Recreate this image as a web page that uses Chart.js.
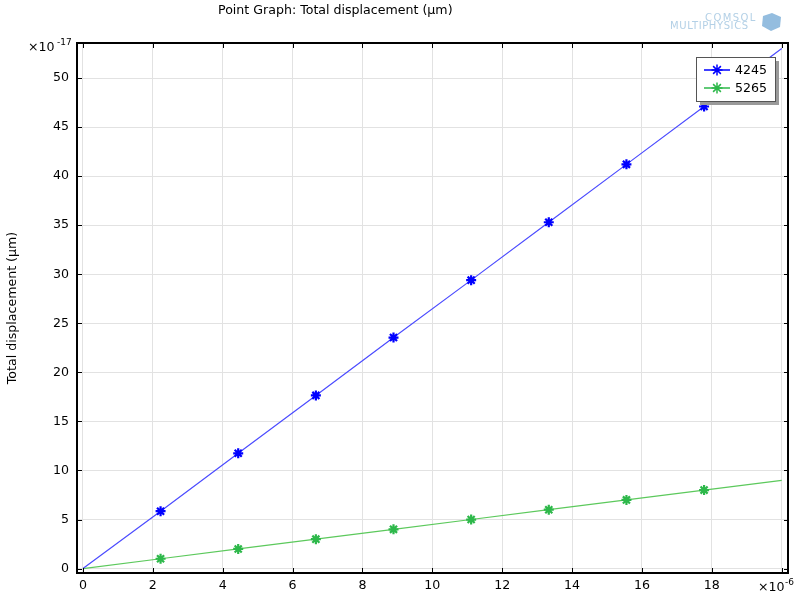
<!DOCTYPE html>
<html>
<head>
<meta charset="utf-8">
<script src="https://cdn.jsdelivr.net/npm/chart.js@4"></script>
<style>
  html, body { margin: 0; padding: 0; background: #fff; }
  #wrap { width: 800px; height: 600px; }
</style>
</head>
<body>
<div id="wrap"><canvas id="myChart" width="800" height="600"></canvas></div>
<script>
// data (x in 1e-6, y in 1e-17 um)
const xValues = [0, 2.222, 4.444, 6.667, 8.889, 11.111, 13.333, 15.556, 17.778, 20];
const series4245 = [0, 5.85, 11.75, 17.65, 23.55, 29.4, 35.3, 41.2, 47.1, 53.0];
const series5265 = [0, 1, 2, 3, 4, 5, 6, 7, 8, 9];
const seriesNames = ['4245', '5265'];
const xTicks = [0, 2, 4, 6, 8, 10, 12, 14, 16, 18, 20];
const yTicks = [0, 5, 10, 15, 20, 25, 30, 35, 40, 45, 50];

const FONT = 'DejaVu Sans, sans-serif';
const FSIZE = 12.6;
const markerRadius = [0, 5, 5, 5, 5, 5, 5, 5, 5, 0];

function toPoints(ys) {
    return xValues.map((x, i) => ({ x: x, y: ys[i] }));
}

// frame, inward ticks, exponents, title, logo, legend
const decorPlugin = {
    id: 'decor',
    afterDraw(chart) {
        const ctx = chart.ctx;
        const a = chart.chartArea;
        const xs = chart.scales.x, ys = chart.scales.y;
        ctx.save();
        ctx.strokeStyle = '#000';
        ctx.lineWidth = 1;
        ctx.beginPath();
        xTicks.forEach(t => {
            const px = Math.round(xs.getPixelForValue(t)) + 0.5;
            ctx.moveTo(px, a.bottom); ctx.lineTo(px, a.bottom - 5);
            ctx.moveTo(px, a.top); ctx.lineTo(px, a.top + 5);
        });
        yTicks.forEach(t => {
            const py = Math.round(ys.getPixelForValue(t)) + 0.5;
            ctx.moveTo(a.left, py); ctx.lineTo(a.left + 5, py);
            ctx.moveTo(a.right, py); ctx.lineTo(a.right - 4, py);
        });
        ctx.stroke();
        ctx.lineWidth = 2;
        ctx.strokeRect(a.left, a.top, a.right - a.left, a.bottom - a.top);

        // exponents
        ctx.fillStyle = '#000';
        ctx.textBaseline = 'alphabetic';
        ctx.font = FSIZE + 'px ' + FONT;
        ctx.fillText('\u00d710', 28, 51);
        ctx.fillText('\u00d710', 758, 591);
        ctx.font = '9px ' + FONT;
        ctx.fillText('-17', 57, 45);
        ctx.fillText('-6', 785, 585);

        // title
        ctx.font = FSIZE + 'px ' + FONT;
        ctx.textBaseline = 'middle';
        ctx.fillText('Point Graph: Total displacement (\u03bcm)', 218, 11);

        // logo
        ctx.fillStyle = '#b3d0e6';
        ctx.textBaseline = 'alphabetic';
        ctx.font = '10px ' + FONT;
        ctx.letterSpacing = '1.4px';
        ctx.fillText('COMSOL', 705, 21);
        ctx.letterSpacing = '0.6px';
        ctx.fillText('MULTIPHYSICS', 670, 29);
        ctx.letterSpacing = '0px';
        ctx.fillStyle = '#94bddf';
        ctx.beginPath();
        ctx.moveTo(772, 13); ctx.lineTo(781, 17); ctx.lineTo(780, 27);
        ctx.lineTo(771, 31); ctx.lineTo(762, 26); ctx.lineTo(763, 16);
        ctx.closePath();
        ctx.fill();

        // legend
        const lx = 696, ly = 57, lw = 79, lh = 44;
        ctx.fillStyle = '#9a9a9a';
        ctx.fillRect(lx + 4, ly + 4, lw, lh);
        ctx.fillStyle = '#fff';
        ctx.fillRect(lx, ly, lw, lh);
        ctx.strokeStyle = '#555';
        ctx.lineWidth = 1;
        ctx.strokeRect(lx + 0.5, ly + 0.5, lw, lh);
        chart.data.datasets.forEach((ds, i) => {
            const y = 70 + i * 18;
            ctx.strokeStyle = ds.pointBorderColor;
            ctx.lineWidth = 1.5;
            ctx.beginPath();
            ctx.moveTo(704, y); ctx.lineTo(730, y);
            ctx.stroke();
            Chart.helpers.drawPoint(ctx, {
                pointStyle: 'star', radius: 5.5, rotation: 0, borderWidth: 2.4
            }, 717, y);
            ctx.fillStyle = '#000';
            ctx.font = FSIZE + 'px ' + FONT;
            ctx.textBaseline = 'middle';
            ctx.fillText(seriesNames[i], 735, y + 1);
        });
        ctx.restore();
    }
};

const barCtx = document.getElementById('myChart').getContext('2d');
const myChart = new Chart(barCtx, {
    type: 'scatter',
    data: {
        datasets: [{
            label: seriesNames[0],
            data: toPoints(series4245),
            showLine: true,
            borderColor: '#4b4bff',
            borderWidth: 1.2,
            pointStyle: 'star',
            pointRadius: markerRadius,
            pointBorderColor: '#0000ff',
            pointBorderWidth: 2.2,
            pointBackgroundColor: '#0000ff'
        }, {
            label: seriesNames[1],
            data: toPoints(series5265),
            showLine: true,
            borderColor: '#5cc95c',
            borderWidth: 1.2,
            pointStyle: 'star',
            pointRadius: markerRadius,
            pointBorderColor: '#2db84a',
            pointBorderWidth: 2.2,
            pointBackgroundColor: '#2db84a'
        }]
    },
    options: {
        responsive: false,
        animation: false,
        layout: { padding: { left: 0, right: 12, top: 43, bottom: 0 } },
        plugins: {
            legend: { display: false },
            tooltip: { enabled: false }
        },
        scales: {
            x: {
                type: 'linear',
                min: -0.17,
                max: 20.18,
                afterBuildTicks: s => { s.ticks = xTicks.map(v => ({ value: v })); },
                afterFit: s => { s.height = 27; },
                grid: { color: '#e2e2e2', drawTicks: false },
                border: { display: false },
                ticks: {
                    padding: 5,
                    color: '#000',
                    font: { family: FONT, size: FSIZE },
                    maxRotation: 0,
                    callback: v => (v === 20 ? '' : String(v))
                }
            },
            y: {
                type: 'linear',
                min: -0.45,
                max: 53.57,
                afterBuildTicks: s => { s.ticks = yTicks.map(v => ({ value: v })); },
                afterFit: s => { s.width = 77; },
                grid: { color: '#e2e2e2', drawTicks: false },
                border: { display: false },
                title: {
                    display: true,
                    text: 'Total displacement (\u03bcm)',
                    color: '#000',
                    font: { family: FONT, size: FSIZE },
                    padding: { top: 5, bottom: 0 }
                },
                ticks: {
                    padding: 8,
                    color: '#000',
                    font: { family: FONT, size: FSIZE }
                }
            }
        }
    },
    plugins: [decorPlugin]
});
</script>
</body>
</html>
